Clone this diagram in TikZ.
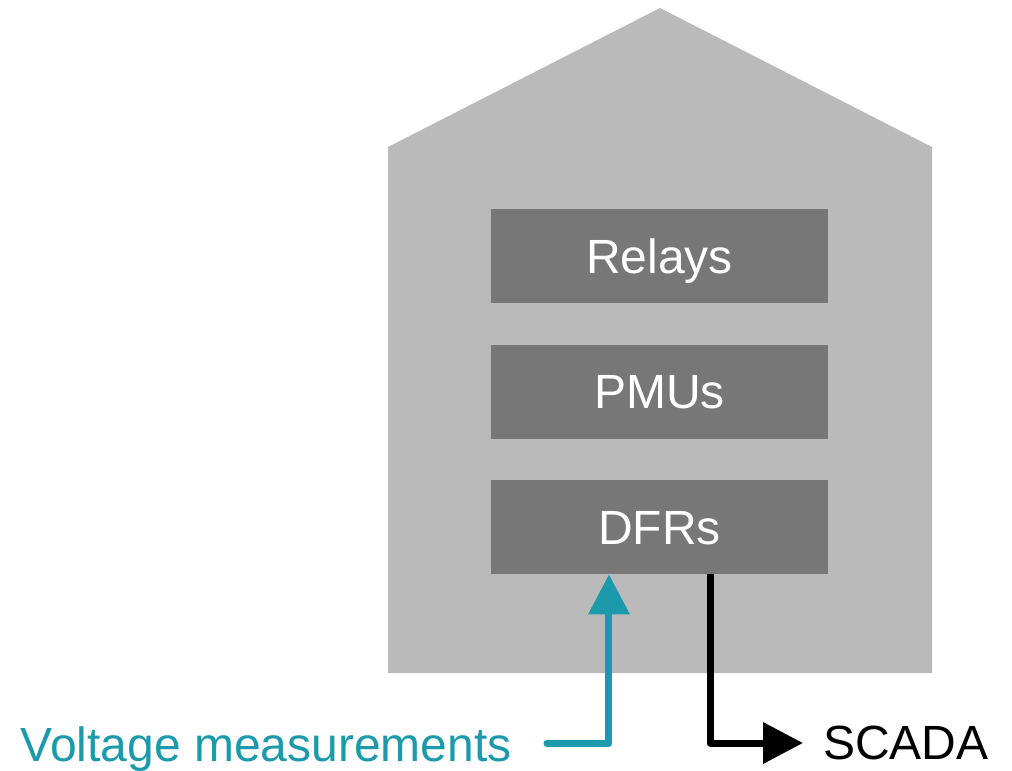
\documentclass[tikz,border=0pt]{standalone}
\usepackage{fontspec}
\setmainfont{Liberation Sans}
\usetikzlibrary{positioning,arrows.meta}
\definecolor{housegray}{HTML}{BBBABB}
\definecolor{boxgray}{HTML}{777777}
\definecolor{measteal}{HTML}{1C9AAB}

\begin{document}
\begin{tikzpicture}[x=0.75pt, y=-0.75pt,
	unit/.style={fill=boxgray, text=white, minimum width=252.75pt, minimum height=70.5pt, inner sep=0pt, text height=0.716em, text depth=0pt},
	link/.style={line width=5.25pt, line join=round, -{Triangle[length=30pt, width=30pt]}},
	lbl/.style={inner sep=0pt}]
\fontsize{36}{43}\selectfont
\useasboundingbox (0,0) rectangle (1012,770);
% building
\fill[housegray] (388,673) -- (388,147) -- (660,8) -- (932,147) -- (932,673) -- cycle;
% devices
\node[unit] (relays) at (659.5,256) {Relays};
\node[unit, below=30.75pt of relays] (pmus) {PMUs};
\node[unit, below=30.75pt of pmus] (dfrs) {DFRs};
% outside
\node[lbl, anchor=base east, text=measteal] (volt) at (512,761) {Voltage measurements};
\node[lbl, anchor=west] (scada) at (823,743) {SCADA};
\coordinate (vin) at (547,743);
\coordinate (din) at ([xshift=-37.9pt]dfrs.south);
\coordinate (dout) at ([xshift=37.9pt]dfrs.south);
\draw[link, measteal, line cap=round] (vin) -| (din);
\draw[link, black] (dout) |- ([xshift=-15pt]scada.west);
\end{tikzpicture}
\end{document}
